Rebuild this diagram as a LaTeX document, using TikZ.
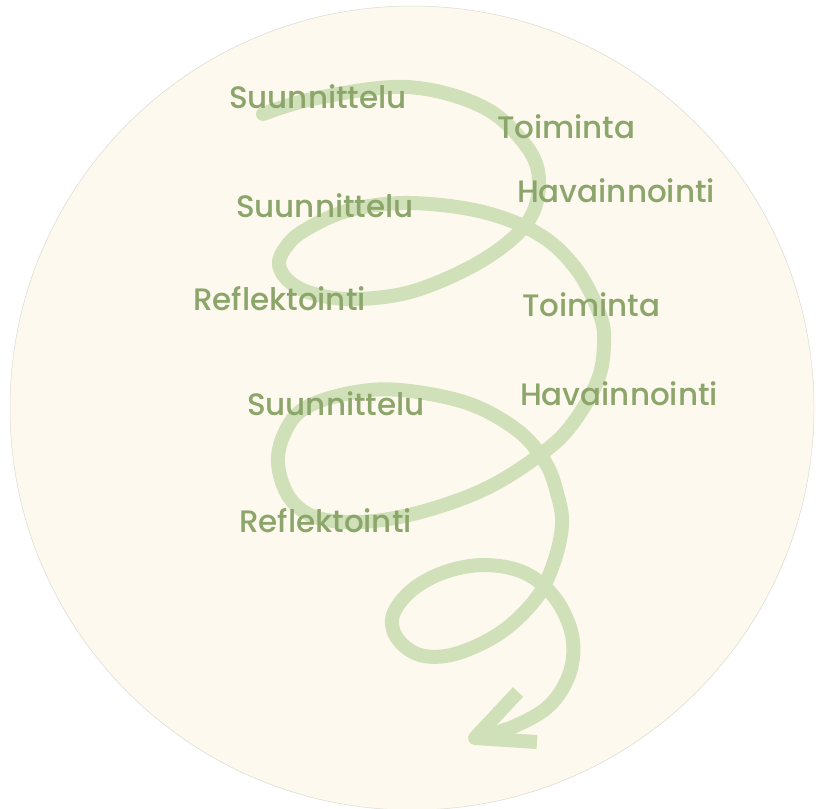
\documentclass[tikz,border=0pt]{standalone}
\usepackage{fontspec}
\newfontfamily\labelfont{Poppins}[UprightFont=* Medium]
\definecolor{cream}{HTML}{FDF9EE}
\definecolor{rim}{HTML}{DCD9D2}
\definecolor{sprout}{HTML}{D0E1B9}
\definecolor{leaf}{HTML}{8CA56B}
\begin{document}
\begin{tikzpicture}[x=1pt, y=-1pt,
  phase/.style={anchor=base west, inner sep=0pt, outer sep=0pt,
    text=leaf, font=\labelfont\fontsize{31}{36}\selectfont},
  spiral/.style={draw=sprout, line width=14pt, line cap=round, line join=round}]
  \useasboundingbox (0,0) rectangle (816,808);
  \clip (0,0) rectangle (816,808);
  % backdrop disc
  \fill[cream, draw=rim, line width=0.5pt] (412,408) circle[radius=402pt];
  % the spiral
  \draw[spiral] plot[smooth, tension=0.6] coordinates {
    (263,114) (317,98) (407,87) (483,107) (527,147) (539,183) (527,223)
    (483,260) (417,290) (360,299) (318,295) (291,283) (279,265) (286,247)
    (305,230) (350,210) (410,203) (483,212) (540,235) (577,270) (600,315)
    (604,345) (597,382) (570,427) (537,457) (483,490) (417,513) (360,522)
    (315,517) (289,497) (278,463) (285,432) (305,408) (350,393) (400,390)
    (467,403) (517,430) (545,462) (557,493) (562,525) (553,565) (535,600)
    (500,633) (455,654) (420,655) (397,638) (393,615) (412,590) (445,572)
    (485,565) (525,573) (555,598) (572,635) (570,672) (550,705) (515,726)
    (477,738)};
  % arrow head
  \draw[spiral, line cap=butt] (518,692) -- (475,738) -- (537,742);
  % phase labels
  \node[phase] (s1) at (229,108) {Suunnittelu};
  \node[phase] (t1) at (497,138) {Toiminta};
  \node[phase] (h1) at (517,202) {Havainnointi};
  \node[phase] (s2) at (236,217) {Suunnittelu};
  \node[phase] (r1) at (193,310) {Reflektointi};
  \node[phase] (t2) at (522,316) {Toiminta};
  \node[phase] (h2) at (520,405) {Havainnointi};
  \node[phase] (s3) at (247,415) {Suunnittelu};
  \node[phase] (r2) at (239,532) {Reflektointi};
\end{tikzpicture}
\end{document}
